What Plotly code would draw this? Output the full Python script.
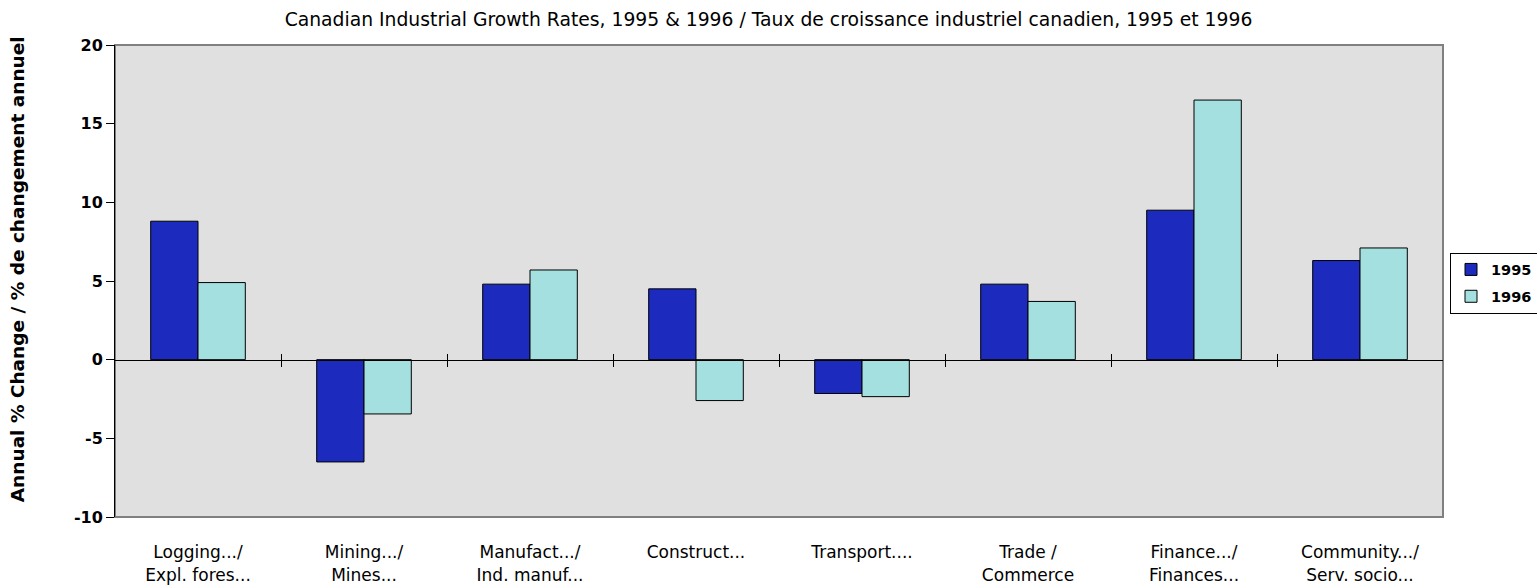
import plotly.graph_objects as go

categories = ["Logging.../<br>Expl. fores...", "Mining.../<br>Mines...", "Manufact.../<br>Ind. manuf...",
              "Construct...", "Transport....", "Trade /<br>Commerce", "Finance.../<br>Finances...",
              "Community.../<br>Serv. socio..."]
values_1995 = [8.8, -6.5, 4.8, 4.5, -2.15, 4.8, 9.5, 6.3]
values_1996 = [4.9, -3.45, 5.7, -2.6, -2.35, 3.7, 16.5, 7.1]
series_names = ["1995", "1996"]
colors = ["#1C2BBE", "#A4E0E0"]
y_ticks = [-10, -5, 0, 5, 10, 15, 20]
y_ticktext = ["-10", "-5", "0", "5", "10", "15", "20"]
title = "Canadian Industrial Growth Rates, 1995 & 1996 / Taux de croissance industriel canadien, 1995 et 1996"
y_title = "Annual % Change / % de changement annuel"

xpos = list(range(len(categories)))
boundaries = [i + 0.5 for i in range(len(categories) - 1)]

fig = go.Figure()
for name, vals, col in zip(series_names, [values_1995, values_1996], colors):
    fig.add_trace(go.Bar(x=xpos, y=vals, name=name, legendgroup=name,
                         marker=dict(color=col, line=dict(color="black", width=1))))

# invisible traces for the zero-line category-boundary axes
for ax in ["x2", "x3"]:
    fig.add_trace(go.Scatter(x=[0], y=[0], xaxis=ax, mode="markers", marker=dict(opacity=0),
                             showlegend=False, hoverinfo="skip"))

fig.update_layout(
    width=1537, height=585,
    margin=dict(l=115, r=94, t=45, b=68, autoexpand=False),
    paper_bgcolor="white", plot_bgcolor="#E0E0E0",
    barmode="group", bargap=0.43, bargroupgap=0,
    title=dict(text=title, x=0.5, xref="container", y=1 - 19 / 585, yref="container",
               xanchor="center", yanchor="middle",
               font=dict(family="DejaVu Sans", size=18.75, color="black")),
    xaxis=dict(range=[-0.5, 7.5], tickmode="array", tickvals=xpos, ticktext=categories, automargin=False,
               showgrid=False, zeroline=False, showline=False, ticks="outside", ticklen=20,
               tickcolor="rgba(0,0,0,0)", tickfont=dict(family="DejaVu Sans", size=17, color="black")),
    xaxis2=dict(overlaying="x", matches="x", anchor="free", position=1 / 3, tickmode="array", automargin=False,
                tickvals=boundaries, showticklabels=False, ticks="outside", ticklen=6, tickcolor="black",
                showline=True, linecolor="black", linewidth=1, showgrid=False, zeroline=False),
    xaxis3=dict(overlaying="x", matches="x", anchor="free", position=1 / 3, tickmode="array", automargin=False,
                tickvals=boundaries, showticklabels=False, ticks="inside", ticklen=6, tickcolor="black",
                showline=False, showgrid=False, zeroline=False),
    yaxis=dict(range=[-10, 20], tickmode="array", tickvals=y_ticks, ticktext=y_ticktext, automargin=False,
               showgrid=False, zeroline=False,
               showline=True, linecolor="black", linewidth=1, ticks="outside", ticklen=8, tickcolor="black",
               tickfont=dict(family="DejaVu Sans", size=16, color="black", weight="bold")),
    legend=dict(xref="container", yref="container", x=1450 / 1537, xanchor="left", y=1 - 283 / 585,
                yanchor="middle", bgcolor="white",
                bordercolor="black", borderwidth=1,
                font=dict(family="DejaVu Sans", size=14.5, color="black", weight="bold"),
                itemwidth=30, tracegroupgap=5),
    annotations=[dict(text=y_title, textangle=-90, xref="paper", yref="paper", x=-(115 - 17) / 1328, y=0.525,
                      xanchor="center", yanchor="middle", showarrow=False,
                      font=dict(family="DejaVu Sans", size=18.5, color="black", weight="bold"))],
    shapes=[dict(type="rect", xref="x domain", yref="y domain", x0=0, x1=1, y0=0, y1=1,
                 line=dict(color="#808080", width=2), layer="below")],
    showlegend=True,
)

fig.write_html("out.html", config={"displayModeBar": False},
               post_script="document.body.style.margin='0px';document.body.style.overflow='hidden';")
